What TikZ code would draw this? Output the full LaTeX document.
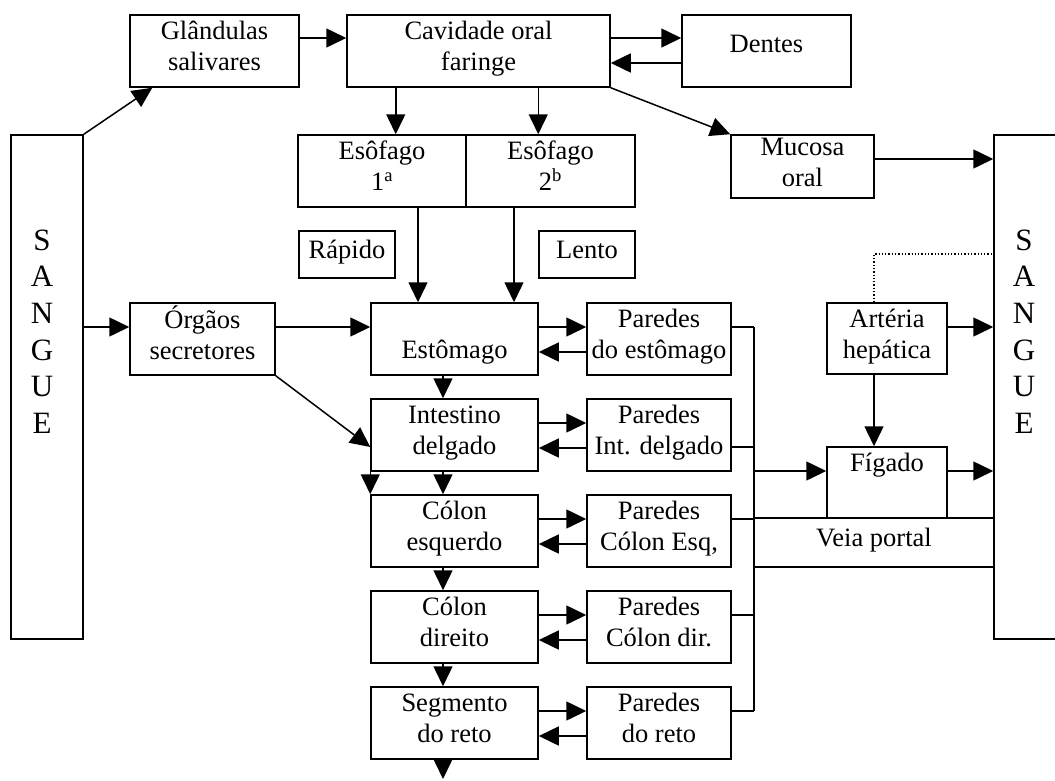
\documentclass[tikz,border=0pt]{standalone}
\usepackage{fontspec}
\setmainfont{Liberation Serif}
\usetikzlibrary{arrows.meta}
\tikzset{
  caixa/.style={draw,line width=1.5pt,inner sep=0pt,align=center},
  unica/.style={caixa,text height=19pt,text depth=12pt},
  letras/.style={inner sep=0pt,align=center,font=\fontsize{31}{36.6}\selectfont},
  seta/.style={-{Triangle[length=20pt,width=19pt]},line width=1.5pt},
  liga/.style={line width=1.5pt},
  pontos/.style={line width=1.3pt,dash pattern=on 1.3pt off 2pt},
}
\newcommand{\duas}[2]{\rule{0pt}{20pt}#1\\#2\rule[-12pt]{0pt}{12pt}}
\begin{document}
\begin{tikzpicture}[x=1pt,y=-1pt,font=\fontsize{26.5}{31}\selectfont]
  \useasboundingbox (0,0) rectangle (1055,780);
  \clip (0,0) rectangle (1055,780);
  \node[caixa,minimum width=72pt,minimum height=504pt] (se) at (47,387) {};
  \node[caixa,minimum width=86pt,minimum height=504pt] (sd) at (1037,387) {};
  \node[letras] (le) at (42,331.5) {S\\A\\N\\G\\U\\E};
  \node[letras] (ld) at (1024,331.5) {S\\A\\N\\G\\U\\E};
  \node[caixa,minimum width=169pt,minimum height=72pt] (gl) at (214.5,51) {\duas{Glândulas}{salivares}};
  \node[caixa,minimum width=263pt,minimum height=72pt] (cav) at (478.5,51) {\duas{Cavidade oral}{faringe}};
  \node[unica,minimum width=169pt,minimum height=72pt,text depth=17pt] (de) at (766.5,51) {Dentes};
  \node[caixa,minimum width=168pt,minimum height=72pt] (e1) at (382,171) {\duas{Esôfago}{1\textsuperscript{a}}};
  \node[caixa,minimum width=169pt,minimum height=72pt] (e2) at (550.5,171) {\duas{Esôfago}{2\textsuperscript{b}}};
  \node[caixa,minimum width=143pt,minimum height=63pt] (mu) at (802.5,166.5) {\duas{Mucosa}{oral}};
  \node[unica,minimum width=96pt,minimum height=47pt] (ra) at (347,254.5) {Rápido};
  \node[unica,minimum width=96pt,minimum height=47pt] (lt) at (587,254.5) {Lento};
  \node[caixa,minimum width=145pt,minimum height=72pt] (og) at (202.5,339) {\duas{Órgãos}{secretores}};
  \foreach \n/\m/\y/\t/\p in {
    es/pe/339/{\duas{}{Estômago}}/{\duas{Paredes}{do estômago}},
    id/pi/435/{\duas{Intestino}{delgado}}/{\duas{Paredes}{Int. delgado}},
    ce/pc/531/{\duas{Cólon}{esquerdo}}/{\duas{Paredes}{Cólon Esq,}},
    cd/pd/627/{\duas{Cólon}{direito}}/{\duas{Paredes}{Cólon dir.}},
    sr/pr/723/{\duas{Segmento}{do reto}}/{\duas{Paredes}{do reto}}}{
    \node[caixa,minimum width=167pt,minimum height=72pt] (\n) at (454.5,\y) {\t};
    \node[caixa,minimum width=144pt,minimum height=72pt] (\m) at (659,\y) {\p};
    \draw[seta] ([yshift=12pt]\n.east) -- ([yshift=12pt]\n.east -| \m.west);
    \draw[seta] ([yshift=-13pt]\m.west) -- ([yshift=-13pt]\m.west -| \n.east);
  }
  \node[caixa,minimum width=120pt,minimum height=71pt] (ah) at (887,338.5) {\duas{Artéria}{hepática}};
  \node[caixa,minimum width=120pt,minimum height=71pt] (fg) at (887,482.5) {\duas{Fígado}{}};
  \node[unica,minimum width=240pt,minimum height=49pt] (vp) at (874,542.5) {Veia portal};
  \draw[seta] (se.north east) -- ([xshift=23pt]gl.south west);
  \draw[seta] ([yshift=13pt]gl.east) -- ([yshift=13pt]gl.east -| cav.west);
  \draw[seta] ([yshift=13pt]cav.east) -- ([yshift=13pt]cav.east -| de.west);
  \draw[seta] ([yshift=-12pt]de.west) -- ([yshift=-12pt]de.west -| cav.east);
  \draw[seta] (ra.east |- cav.south) -- (ra.east |- e1.north);
  \draw[seta] (lt.west |- cav.south) -- (lt.west |- e2.north);
  \draw[seta] (cav.south east) -- (mu.north west);
  \draw[seta] ([yshift=7.5pt]mu.east) -- ([yshift=7.5pt]mu.east -| sd.west);
  \draw[seta] ([xshift=36pt]e1.south) -- ([xshift=36pt]e1.south |- es.north);
  \draw[seta] ([xshift=-36.5pt]e2.south) -- ([xshift=-36.5pt]e2.south |- es.north);
  \draw[seta] ([yshift=12pt]og.west -| se.east) -- ([yshift=12pt]og.west);
  \draw[seta] ([yshift=12pt]og.east) -- ([yshift=12pt]og.east -| es.west);
  \draw[seta] (og.south east) -- ([yshift=-12pt]id.west);
  \foreach \a/\b in {es/id,id/ce,ce/cd,cd/sr}
    \draw[seta] ([xshift=-11.5pt]\a.south) -- ([xshift=-11.5pt]\b.north);
  \coordinate (saida) at (443,779);
  \draw[seta] (sr.south -| saida) -- (saida);
  \draw[seta] (id.south west) -- (ce.north west);
  \coordinate (c1) at (754,327);
  \coordinate (c2) at (754,711);
  \draw[liga] (c1) -- (c2);
  \foreach \m/\d in {pe/12pt,pi/-12pt,pc/12pt,pd/12pt,pr/12pt}
    \draw[liga] ([yshift=\d]\m.east) -- ([yshift=\d]\m.east -| c1);
  \draw[seta] ([yshift=11.5pt]fg.west -| c1) -- ([yshift=11.5pt]fg.west);
  \draw[seta] ([yshift=11.5pt]fg.east) -- ([yshift=11.5pt]fg.east -| sd.west);
  \draw[seta] ([yshift=11.5pt]ah.east) -- ([yshift=11.5pt]ah.east -| sd.west);
  \draw[seta] ([xshift=-13pt]ah.south) -- ([xshift=-13pt]fg.north);
  \draw[pontos] ([xshift=-13pt]ah.north) |- ([yshift=133pt]sd.west);
\end{tikzpicture}
\end{document}
